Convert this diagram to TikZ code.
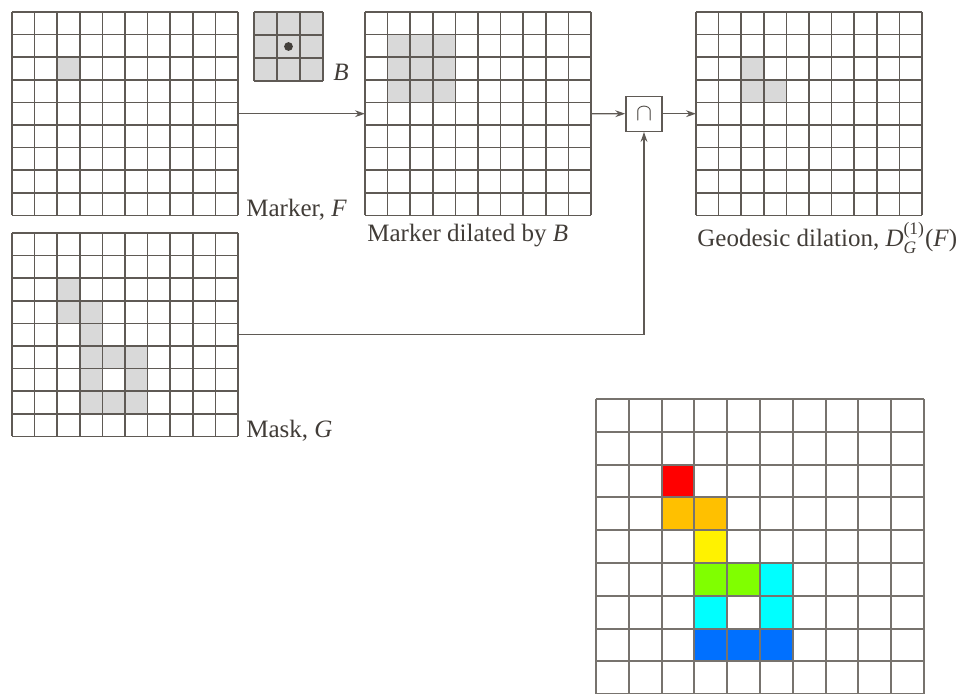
\documentclass[tikz,border=0pt]{standalone}
\usepackage{amsmath}
\usepackage{fontspec}
\setmainfont{Liberation Serif}
\usepackage{tikz}
\usetikzlibrary{arrows.meta, positioning, fit}

\definecolor{gridline}{RGB}{95,90,85}
\definecolor{cellgray}{RGB}{217,217,217}
\definecolor{txtgray}{RGB}{65,60,55}
\definecolor{cRed}{RGB}{255,0,0}
\definecolor{cOrange}{RGB}{255,192,0}
\definecolor{cYellow}{RGB}{255,242,0}
\definecolor{cGreen}{RGB}{128,255,0}
\definecolor{cCyan}{RGB}{0,255,255}
\definecolor{cBlue}{RGB}{0,112,255}

% grid of lines: x, y, cell, cols, rows
\newcommand{\pixgrid}[6][gridlines]{%
  \foreach \gi in {0,...,#5} \draw[#1] ({#2+\gi*#4},#3) -- ++(0,{#6*#4});
  \foreach \gj in {0,...,#6} \draw[#1] (#2,{#3+\gj*#4}) -- ++({#5*#4},0);
}
% one filled cell: x, y, cell, col, row, colour
\newcommand{\gcell}[6]{%
  \fill[#6] ({#1+#4*#3},{#2+#5*#3}) rectangle ++(#3,#3);
}

\begin{document}
\begin{tikzpicture}[
    x=0.5pt, y=-0.5pt,
    every node/.style={font=\fontsize{12.5}{15}\selectfont, text=txtgray},
    gridlines/.style={draw=gridline, line width=0.75pt},
    thickgrid/.style={draw=gridline!85, line width=1pt},
    frame/.style={inner sep=0pt, outer sep=0pt},
    opbox/.style={rectangle, draw=gridline, line width=0.7pt, fill=white,
                  minimum width=18pt, minimum height=17.5pt, inner sep=0pt},
    arrow/.style={-{Stealth[length=5pt, width=3.4pt]}, draw=gridline, line width=0.7pt},
    lbl/.style={anchor=base west, inner sep=0pt},
]
\useasboundingbox (0,0) rectangle (962,693);

% Row 1: Marker F
\gcell{12}{12}{22.6}{2}{2}{cellgray}
\pixgrid{12}{12}{22.6}{10}{9}
\node[frame, fit={(12,12) (238,215.4)}] (marker) {};
\node[lbl] (lblF) at (246,216) {Marker, \textit{F}};

% Row 1: structuring element B
\foreach \c in {0,1,2} \foreach \r in {0,1,2} {\gcell{254}{12}{23}{\c}{\r}{cellgray}}
\pixgrid{254}{12}{23}{3}{3}
\node[frame, fit={(254,12) (323,81)}] (selem) {};
\fill[gridline!70!black] (selem.center) circle (2.2pt);
\node[lbl] (lblB) at (333,80) {\textit{B}};

% Row 1: Marker dilated by B
\foreach \c in {1,2,3} \foreach \r in {1,2,3} {\gcell{365}{12}{22.6}{\c}{\r}{cellgray}}
\pixgrid{365}{12}{22.6}{10}{9}
\node[frame, fit={(365,12) (591,215.4)}] (dilated) {};
\node[lbl] (lblDil) at (367,241) {Marker dilated by \textit{B}};

% Row 1: intersection
\node[opbox] (capop) at (644,113.7) {$\cap$};

% Row 1: Geodesic dilation
\gcell{696}{12}{22.6}{2}{2}{cellgray}
\gcell{696}{12}{22.6}{2}{3}{cellgray}
\gcell{696}{12}{22.6}{3}{3}{cellgray}
\pixgrid{696}{12}{22.6}{10}{9}
\node[frame, fit={(696,12) (922,215.4)}] (geodesic) {};
\node[lbl] (lblGeo) at (697,246) {Geodesic dilation, \textit{D}$^{\text{(1)}}_{\textit{G}}$(\textit{F})};

% Row 2: Mask G
\foreach \c/\r in {2/2,2/3,3/3,3/4,3/5,4/5,5/5,3/6,5/6,3/7,4/7,5/7} {\gcell{12}{233}{22.6}{\c}{\r}{cellgray}}
\pixgrid{12}{233}{22.6}{10}{9}
\node[frame, fit={(12,233) (238,436.4)}] (mask) {};
\node[lbl] (lblG) at (246,437) {Mask, \textit{G}};

% Row 3: coloured mask
\foreach \c/\r/\col in {2/2/cRed, 2/3/cOrange, 3/3/cOrange, 3/4/cYellow, 3/5/cGreen, 4/5/cGreen,
    5/5/cCyan, 3/6/cCyan, 5/6/cCyan, 3/7/cBlue, 4/7/cBlue, 5/7/cBlue} {\gcell{596}{399}{32.8}{\c}{\r}{\col}}
\pixgrid[thickgrid]{596}{399}{32.8}{10}{9}

% Arrows
\draw[arrow] (marker) -- (dilated);
\draw[arrow] (dilated) -- (capop);
\draw[arrow] (capop) -- (capop -| geodesic.west);
\draw[arrow] (mask.east) -| (capop.south);

\end{tikzpicture}
\end{document}
